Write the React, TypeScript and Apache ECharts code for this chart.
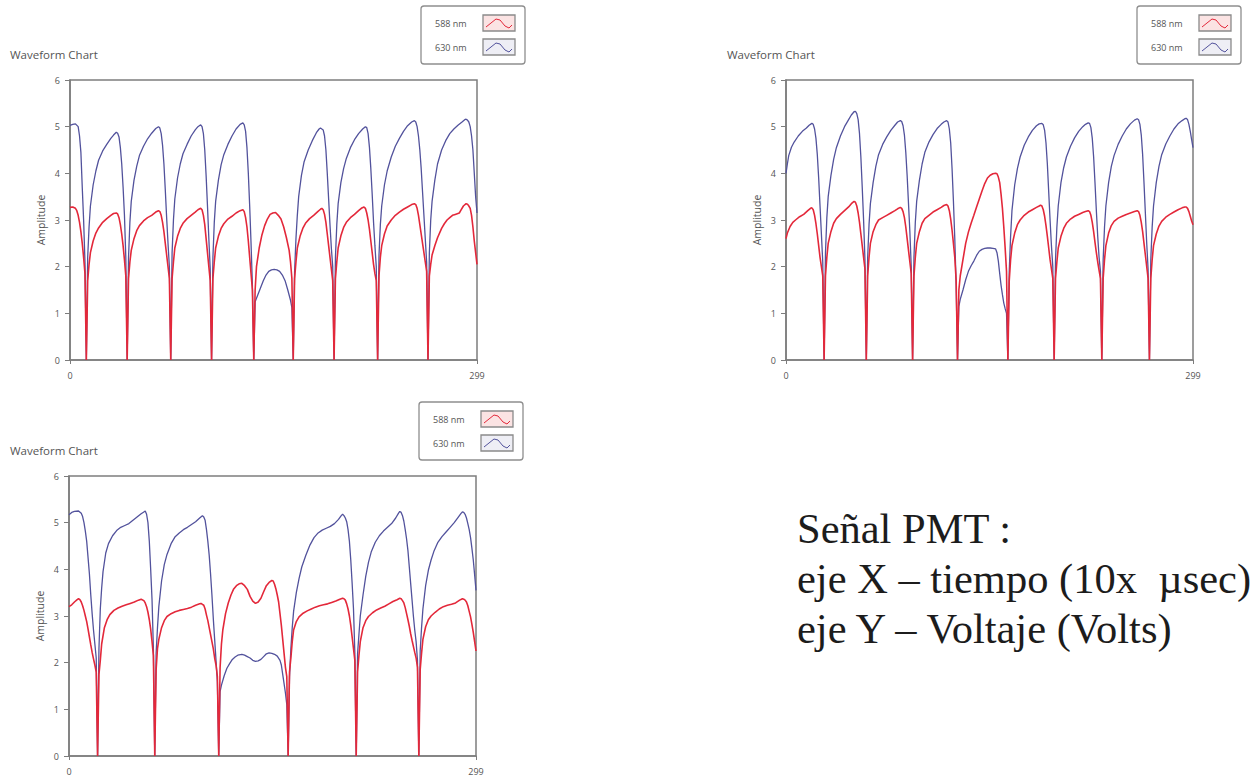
import React, { useEffect, useRef } from "react";
import * as echarts from "echarts";

// ---- text content ----
const chartTitle = "Waveform Chart";
const yAxisName = "Amplitude";
const seriesNames = ["588 nm", "630 nm"];
const xTickLabels = ["0", "299"];
const yTickValues = [0, 1, 2, 3, 4, 5, 6];
const noteLines = ["Señal PMT :", "eje X – tiempo (10x  µsec)", "eje Y – Voltaje (Volts)"];

// ---- panel A (top left) ----
const panelA_588: number[][] = [
  [0, 3.27], [2, 3.28], [4, 3.25], [5, 3.2], [6, 3.1], [7, 2.95], [8, 2.75], [9, 2.5], [10, 2.2], [11, 1.85], [12, 0],
  [13, 1.7], [14, 2.05], [15, 2.3], [17, 2.55], [19, 2.72], [21, 2.83], [24, 2.95], [27, 3.03], [30, 3.1], [32, 3.14], [34, 3.15], [35, 3.13], [36, 3.05], [37, 2.9], [38, 2.7], [39, 2.45], [40, 2.15], [41, 1.8], [42, 0],
  [43, 1.75], [44, 2.1], [45, 2.35], [47, 2.6], [49, 2.77], [51, 2.88], [54, 2.98], [57, 3.05], [60, 3.1], [63, 3.17], [65, 3.2], [66, 3.18], [67, 3.1], [68, 2.95], [69, 2.75], [70, 2.5], [71, 2.25], [72, 2.0], [73, 1.75], [74, 0],
  [75, 1.75], [76, 2.1], [77, 2.4], [79, 2.65], [81, 2.82], [83, 2.93], [86, 3.03], [89, 3.1], [92, 3.17], [94, 3.22], [96, 3.25], [97, 3.22], [98, 3.1], [99, 2.9], [100, 2.6], [101, 2.3], [102, 2.0], [103, 1.7], [104, 0],
  [105, 1.75], [106, 2.1], [107, 2.4], [109, 2.65], [111, 2.82], [113, 2.92], [116, 3.02], [119, 3.08], [122, 3.15], [125, 3.2], [127, 3.22], [128, 3.18], [129, 3.05], [130, 2.85], [131, 2.55], [132, 2.2], [133, 1.85], [134, 1.5], [135, 0],
  [136, 1.5], [137, 2.0], [139, 2.4], [141, 2.68], [143, 2.88], [145, 3.02], [147, 3.12], [149, 3.15], [151, 3.16], [153, 3.1], [155, 3.02], [157, 2.85], [159, 2.62], [161, 2.35], [162, 2.1], [163, 1.75], [164, 0],
  [165, 1.75], [166, 2.1], [167, 2.4], [169, 2.65], [171, 2.82], [173, 2.93], [176, 3.03], [179, 3.1], [182, 3.18], [184, 3.23], [185, 3.25], [186, 3.22], [187, 3.12], [188, 2.95], [189, 2.7], [190, 2.45], [191, 2.2], [192, 1.95], [193, 1.7], [194, 0],
  [195, 1.75], [196, 2.1], [197, 2.4], [199, 2.66], [201, 2.84], [203, 2.95], [206, 3.05], [209, 3.12], [212, 3.2], [214, 3.25], [216, 3.28], [217, 3.25], [218, 3.15], [219, 3.0], [220, 2.8], [221, 2.55], [222, 2.3], [223, 2.05], [224, 1.85], [225, 1.7], [226, 0],
  [227, 1.8], [228, 2.2], [229, 2.45], [231, 2.7], [233, 2.87], [236, 3.0], [239, 3.1], [242, 3.17], [245, 3.23], [248, 3.28], [251, 3.33], [253, 3.35], [254, 3.33], [255, 3.25], [256, 3.1], [257, 2.9], [258, 2.7], [259, 2.5], [260, 2.3], [261, 2.1], [262, 1.9], [263, 0],
  [264, 1.8], [265, 2.05], [266, 2.25], [268, 2.45], [270, 2.62], [273, 2.82], [275, 2.92], [277, 3.0], [279, 3.05], [281, 3.1], [283, 3.12], [285, 3.14], [286, 3.15], [287, 3.2], [289, 3.3], [291, 3.35], [292, 3.34], [293, 3.3], [294, 3.25], [295, 3.1], [296, 2.85], [297, 2.55], [298, 2.3], [299, 2.05],
];

const panelA_630: number[][] = [
  [0, 5.03], [2, 5.05], [4, 5.06], [6, 5.0], [7, 4.8], [8, 4.45], [9, 3.7], [10, 3.0], [11, 2.1], [12, 0],
  [13, 2.2], [14, 2.85], [15, 3.3], [17, 3.75], [19, 4.05], [21, 4.28], [24, 4.48], [27, 4.62], [30, 4.75], [32, 4.82], [34, 4.88], [35, 4.86], [36, 4.78], [37, 4.55], [38, 4.2], [39, 3.7], [40, 3.1], [41, 2.2], [42, 0],
  [43, 2.2], [44, 2.95], [45, 3.4], [47, 3.85], [49, 4.15], [51, 4.38], [54, 4.58], [57, 4.74], [60, 4.86], [63, 4.96], [65, 5.0], [66, 4.97], [67, 4.85], [68, 4.6], [69, 4.2], [70, 3.65], [71, 3.05], [72, 2.5], [73, 2.0], [74, 0],
  [75, 2.3], [76, 3.0], [77, 3.45], [79, 3.9], [81, 4.2], [83, 4.42], [86, 4.62], [89, 4.8], [92, 4.93], [94, 5.0], [96, 5.04], [97, 5.0], [98, 4.85], [99, 4.5], [100, 3.95], [101, 3.3], [102, 2.6], [103, 1.95], [104, 0],
  [105, 2.2], [106, 2.95], [107, 3.4], [109, 3.85], [111, 4.18], [113, 4.4], [116, 4.62], [119, 4.8], [122, 4.95], [125, 5.05], [127, 5.08], [128, 5.04], [129, 4.9], [130, 4.55], [131, 4.0], [132, 3.3], [133, 2.5], [134, 1.6], [135, 0],
  [136, 1.25], [138, 1.4], [140, 1.55], [142, 1.7], [144, 1.82], [146, 1.9], [148, 1.93], [150, 1.94], [152, 1.93], [154, 1.9], [156, 1.82], [158, 1.7], [160, 1.5], [162, 1.28], [163, 1.12], [164, 0],
  [165, 1.9], [166, 2.6], [167, 3.1], [168, 3.5], [170, 3.95], [172, 4.25], [175, 4.5], [178, 4.7], [181, 4.87], [183, 4.95], [184, 4.97], [186, 4.93], [187, 4.8], [188, 4.5], [189, 4.0], [190, 3.45], [191, 2.9], [192, 2.4], [193, 2.0], [194, 0],
  [195, 2.2], [196, 2.9], [197, 3.35], [199, 3.8], [201, 4.1], [203, 4.32], [206, 4.55], [209, 4.72], [212, 4.85], [215, 4.95], [217, 5.0], [218, 4.98], [219, 4.85], [220, 4.55], [221, 4.1], [222, 3.55], [223, 2.95], [224, 2.45], [225, 2.0], [226, 0],
  [227, 2.25], [228, 2.9], [229, 3.3], [231, 3.75], [233, 4.05], [236, 4.35], [239, 4.58], [242, 4.75], [245, 4.9], [248, 5.02], [251, 5.1], [253, 5.13], [254, 5.1], [255, 5.0], [256, 4.8], [257, 4.5], [258, 4.1], [259, 3.6], [260, 3.1], [261, 2.6], [262, 2.1], [263, 0],
  [264, 2.3], [265, 3.0], [266, 3.4], [268, 3.85], [270, 4.2], [273, 4.5], [276, 4.7], [279, 4.85], [282, 4.95], [285, 5.03], [288, 5.1], [290, 5.15], [291, 5.16], [292, 5.14], [293, 5.1], [294, 5.0], [295, 4.8], [296, 4.5], [297, 4.0], [298, 3.5], [299, 3.15],
];

// ---- panel B (top right) ----
const panelB_588: number[][] = [
  [0, 2.6], [1, 2.72], [3, 2.86], [5, 2.95], [7, 3.0], [10, 3.07], [13, 3.12], [16, 3.2], [18, 3.25], [19, 3.26], [20, 3.22], [21, 3.1], [22, 2.92], [23, 2.7], [24, 2.45], [25, 2.2], [26, 2.0], [27, 1.8], [28, 0],
  [29, 1.8], [30, 2.2], [31, 2.5], [33, 2.75], [35, 2.93], [37, 3.03], [40, 3.12], [43, 3.2], [46, 3.28], [48, 3.35], [50, 3.4], [51, 3.38], [52, 3.3], [53, 3.15], [54, 2.95], [55, 2.7], [56, 2.45], [57, 2.2], [58, 1.95], [59, 0],
  [60, 1.8], [61, 2.2], [62, 2.5], [64, 2.75], [66, 2.9], [68, 3.0], [71, 3.05], [74, 3.1], [77, 3.15], [80, 3.2], [82, 3.24], [84, 3.27], [85, 3.25], [86, 3.18], [87, 3.05], [88, 2.85], [89, 2.6], [90, 2.35], [91, 2.1], [92, 1.85], [93, 0],
  [94, 1.8], [95, 2.2], [96, 2.5], [98, 2.75], [100, 2.93], [102, 3.03], [105, 3.1], [108, 3.17], [111, 3.22], [114, 3.27], [116, 3.31], [118, 3.33], [119, 3.3], [120, 3.2], [121, 3.02], [122, 2.78], [123, 2.5], [124, 2.2], [125, 1.7], [126, 0],
  [127, 1.5], [128, 1.8], [130, 2.15], [132, 2.5], [134, 2.74], [136, 2.93], [138, 3.1], [140, 3.28], [142, 3.45], [144, 3.62], [146, 3.78], [148, 3.9], [150, 3.96], [152, 3.99], [154, 4.0], [155, 3.99], [156, 3.92], [157, 3.8], [158, 3.55], [159, 3.25], [160, 2.85], [161, 2.4], [162, 1.9], [163, 0],
  [164, 1.7], [165, 2.15], [166, 2.45], [168, 2.72], [170, 2.9], [172, 3.0], [175, 3.1], [178, 3.17], [181, 3.22], [184, 3.27], [186, 3.3], [187, 3.32], [188, 3.3], [189, 3.22], [190, 3.08], [191, 2.88], [192, 2.65], [193, 2.4], [194, 2.15], [195, 1.95], [196, 1.75], [197, 0],
  [198, 1.75], [199, 2.1], [200, 2.4], [202, 2.65], [204, 2.82], [206, 2.93], [209, 3.02], [212, 3.08], [215, 3.12], [218, 3.16], [220, 3.18], [222, 3.2], [223, 3.18], [224, 3.1], [225, 2.95], [226, 2.75], [227, 2.52], [228, 2.3], [229, 2.1], [230, 1.92], [231, 1.75], [232, 0],
  [233, 1.75], [234, 2.15], [235, 2.45], [237, 2.72], [239, 2.88], [241, 2.97], [244, 3.04], [247, 3.08], [250, 3.12], [253, 3.15], [256, 3.18], [258, 3.2], [259, 3.18], [260, 3.1], [261, 2.95], [262, 2.75], [263, 2.5], [264, 2.25], [265, 2.0], [266, 1.75], [267, 0],
  [268, 1.75], [269, 2.15], [270, 2.45], [272, 2.7], [274, 2.87], [276, 2.97], [279, 3.06], [282, 3.12], [285, 3.17], [288, 3.22], [291, 3.26], [293, 3.28], [294, 3.28], [295, 3.25], [296, 3.18], [297, 3.08], [298, 2.98], [299, 2.9],
];

const panelB_630: number[][] = [
  [0, 4.0], [1, 4.2], [2, 4.38], [4, 4.56], [6, 4.67], [9, 4.8], [12, 4.9], [15, 4.97], [17, 5.03], [19, 5.07], [20, 5.05], [21, 4.95], [22, 4.75], [23, 4.4], [24, 3.9], [25, 3.3], [26, 2.7], [27, 2.1], [28, 0],
  [29, 2.3], [30, 3.05], [31, 3.5], [33, 3.95], [35, 4.3], [37, 4.55], [40, 4.8], [43, 5.0], [46, 5.15], [48, 5.25], [50, 5.32], [51, 5.33], [52, 5.28], [53, 5.15], [54, 4.85], [55, 4.35], [56, 3.7], [57, 3.0], [58, 2.15], [59, 0],
  [60, 2.2], [61, 2.9], [62, 3.35], [64, 3.8], [66, 4.15], [68, 4.4], [71, 4.62], [74, 4.78], [77, 4.92], [80, 5.03], [82, 5.1], [84, 5.13], [85, 5.11], [86, 5.02], [87, 4.82], [88, 4.45], [89, 3.95], [90, 3.35], [91, 2.75], [92, 2.0], [93, 0],
  [94, 2.2], [95, 2.95], [96, 3.4], [98, 3.85], [100, 4.2], [102, 4.45], [105, 4.67], [108, 4.83], [111, 4.96], [114, 5.05], [116, 5.1], [118, 5.13], [119, 5.1], [120, 4.95], [121, 4.65], [122, 4.1], [123, 3.4], [124, 2.6], [125, 1.6], [126, 0],
  [127, 1.15], [128, 1.3], [130, 1.5], [132, 1.72], [134, 1.9], [136, 2.02], [138, 2.12], [140, 2.24], [142, 2.33], [144, 2.37], [146, 2.39], [148, 2.4], [150, 2.4], [152, 2.39], [154, 2.38], [155, 2.3], [156, 2.12], [157, 1.85], [158, 1.6], [159, 1.4], [160, 1.22], [161, 1.1], [162, 1.0], [163, 0],
  [164, 1.9], [165, 2.65], [166, 3.2], [168, 3.75], [170, 4.1], [172, 4.35], [175, 4.6], [178, 4.78], [181, 4.92], [184, 5.02], [186, 5.06], [188, 5.07], [189, 5.04], [190, 4.92], [191, 4.65], [192, 4.2], [193, 3.6], [194, 3.0], [195, 2.45], [196, 2.0], [197, 0],
  [198, 2.15], [199, 2.85], [200, 3.3], [202, 3.8], [204, 4.12], [206, 4.35], [209, 4.58], [212, 4.76], [215, 4.9], [218, 5.0], [220, 5.05], [222, 5.08], [223, 5.07], [224, 4.98], [225, 4.75], [226, 4.35], [227, 3.8], [228, 3.2], [229, 2.65], [230, 2.2], [231, 1.9], [232, 0],
  [233, 2.15], [234, 2.85], [235, 3.3], [237, 3.8], [239, 4.15], [241, 4.38], [244, 4.62], [247, 4.8], [250, 4.95], [253, 5.06], [256, 5.14], [258, 5.17], [259, 5.15], [260, 5.05], [261, 4.82], [262, 4.4], [263, 3.8], [264, 3.15], [265, 2.5], [266, 1.95], [267, 0],
  [268, 2.15], [269, 2.85], [270, 3.3], [272, 3.8], [274, 4.15], [276, 4.4], [279, 4.63], [282, 4.8], [285, 4.95], [288, 5.06], [291, 5.13], [293, 5.17], [294, 5.18], [295, 5.15], [296, 5.05], [297, 4.9], [298, 4.72], [299, 4.55],
];

// ---- panel C (bottom left) ----
const panelC_588: number[][] = [
  [0, 3.2], [2, 3.24], [4, 3.3], [6, 3.35], [7, 3.37], [8, 3.35], [9, 3.3], [10, 3.22], [11, 3.12], [12, 3.0], [13, 2.88], [14, 2.72], [15, 2.55], [16, 2.38], [17, 2.22], [18, 2.08], [19, 1.95], [20, 1.8], [21, 0],
  [22, 1.75], [23, 2.05], [24, 2.4], [26, 2.75], [28, 2.92], [30, 3.03], [33, 3.12], [36, 3.17], [39, 3.21], [42, 3.24], [45, 3.27], [48, 3.3], [51, 3.34], [53, 3.36], [55, 3.33], [56, 3.28], [57, 3.2], [58, 3.08], [59, 2.92], [60, 2.72], [61, 2.45], [62, 2.15], [63, 0],
  [64, 1.85], [65, 2.3], [66, 2.5], [68, 2.75], [70, 2.9], [72, 2.99], [75, 3.05], [78, 3.09], [81, 3.12], [84, 3.14], [87, 3.16], [90, 3.19], [93, 3.23], [96, 3.26], [97, 3.27], [98, 3.25], [99, 3.23], [100, 3.15], [101, 3.02], [102, 2.9], [103, 2.75], [104, 2.6], [105, 2.45], [106, 2.3], [107, 2.1], [108, 1.95], [109, 1.7], [110, 0],
  [111, 1.9], [112, 2.4], [113, 2.7], [115, 3.05], [117, 3.28], [119, 3.45], [121, 3.58], [123, 3.65], [125, 3.69], [127, 3.7], [129, 3.65], [131, 3.57], [133, 3.42], [135, 3.32], [137, 3.27], [139, 3.3], [141, 3.38], [143, 3.52], [145, 3.65], [147, 3.72], [149, 3.76], [150, 3.75], [151, 3.68], [152, 3.58], [153, 3.45], [154, 3.3], [155, 3.05], [156, 2.8], [157, 2.5], [158, 2.2], [159, 1.9], [160, 1.7], [161, 0],
  [162, 1.8], [163, 2.1], [164, 2.45], [165, 2.7], [167, 2.88], [169, 2.98], [172, 3.06], [175, 3.11], [178, 3.15], [181, 3.19], [184, 3.22], [187, 3.24], [190, 3.26], [193, 3.29], [196, 3.32], [199, 3.36], [201, 3.38], [202, 3.37], [203, 3.34], [204, 3.26], [205, 3.15], [206, 3.0], [207, 2.8], [208, 2.55], [209, 2.3], [210, 2.05], [211, 0],
  [212, 1.8], [213, 2.15], [214, 2.45], [216, 2.75], [218, 2.9], [220, 2.99], [223, 3.07], [226, 3.13], [229, 3.17], [232, 3.21], [235, 3.26], [238, 3.31], [241, 3.35], [243, 3.38], [244, 3.37], [245, 3.33], [246, 3.28], [247, 3.18], [248, 3.05], [249, 2.92], [250, 2.78], [251, 2.62], [252, 2.48], [253, 2.35], [254, 2.22], [255, 2.1], [256, 1.9], [257, 0],
  [258, 1.85], [259, 2.2], [260, 2.5], [262, 2.77], [264, 2.92], [266, 3.0], [269, 3.08], [272, 3.15], [275, 3.2], [278, 3.23], [281, 3.25], [284, 3.28], [287, 3.34], [289, 3.37], [290, 3.36], [291, 3.34], [292, 3.3], [293, 3.22], [294, 3.1], [295, 2.98], [296, 2.82], [297, 2.65], [298, 2.45], [299, 2.25],
];

const panelC_630: number[][] = [
  [0, 5.17], [2, 5.22], [4, 5.24], [7, 5.25], [9, 5.2], [10, 5.13], [11, 5.0], [12, 4.82], [13, 4.6], [14, 4.25], [15, 3.9], [16, 3.45], [17, 3.05], [18, 2.7], [19, 2.4], [20, 2.1], [21, 0],
  [22, 2.3], [23, 3.15], [24, 3.6], [25, 3.95], [27, 4.35], [29, 4.55], [32, 4.72], [35, 4.83], [38, 4.9], [41, 4.94], [44, 4.98], [47, 5.05], [50, 5.12], [53, 5.19], [55, 5.23], [56, 5.25], [57, 5.18], [58, 5.0], [59, 4.6], [60, 4.0], [61, 3.35], [62, 2.3], [63, 0],
  [64, 2.2], [65, 2.75], [66, 3.2], [68, 3.75], [70, 4.1], [72, 4.32], [75, 4.55], [78, 4.7], [81, 4.78], [84, 4.85], [87, 4.9], [90, 4.96], [93, 5.02], [96, 5.1], [98, 5.15], [99, 5.12], [100, 5.05], [101, 4.85], [102, 4.6], [103, 4.3], [104, 3.9], [105, 3.45], [106, 2.95], [107, 2.5], [108, 2.05], [109, 1.6], [110, 0],
  [111, 1.38], [112, 1.52], [114, 1.72], [116, 1.88], [118, 1.98], [120, 2.07], [122, 2.12], [124, 2.16], [127, 2.18], [129, 2.16], [131, 2.13], [133, 2.1], [135, 2.05], [137, 2.03], [139, 2.04], [141, 2.07], [143, 2.13], [145, 2.19], [147, 2.21], [149, 2.2], [151, 2.18], [153, 2.14], [155, 2.05], [156, 1.95], [157, 1.75], [158, 1.55], [159, 1.35], [160, 1.1], [161, 0],
  [162, 1.7], [163, 2.3], [164, 2.75], [165, 3.1], [167, 3.5], [169, 3.8], [171, 4.05], [174, 4.3], [177, 4.52], [180, 4.68], [183, 4.78], [186, 4.84], [189, 4.88], [192, 4.92], [195, 4.98], [198, 5.07], [200, 5.15], [201, 5.18], [202, 5.15], [203, 5.1], [204, 5.02], [205, 4.85], [206, 4.6], [207, 4.2], [208, 3.7], [209, 3.15], [210, 2.2], [211, 0],
  [212, 2.2], [213, 2.6], [214, 3.0], [216, 3.45], [218, 3.85], [220, 4.15], [222, 4.37], [225, 4.58], [228, 4.72], [231, 4.82], [234, 4.9], [237, 4.98], [240, 5.1], [242, 5.2], [243, 5.24], [244, 5.22], [245, 5.15], [246, 5.03], [247, 4.85], [248, 4.65], [249, 4.4], [250, 4.05], [251, 3.7], [252, 3.35], [253, 3.0], [254, 2.7], [255, 2.45], [256, 2.05], [257, 0],
  [258, 2.25], [259, 2.75], [260, 3.15], [262, 3.65], [264, 3.98], [266, 4.2], [268, 4.38], [271, 4.58], [274, 4.7], [277, 4.8], [280, 4.9], [283, 5.0], [286, 5.12], [288, 5.2], [289, 5.23], [290, 5.22], [291, 5.18], [292, 5.1], [293, 4.98], [294, 4.85], [295, 4.68], [296, 4.45], [297, 4.2], [298, 3.88], [299, 3.55],
];

// ---- layout ----
const UI_FONT = "'Open Sans', 'Noto Sans', 'DejaVu Sans', sans-serif";
const NOTE_FONT = "'Liberation Serif', 'Times New Roman', serif";
const FRAME = "#7d7d7d";
const LABEL = "#555555";
const RED = "#e3283a";
const BLUE = "#52529c";

const PLOT_W = 407;
const PLOT_H = 280;

const panels = [
  { left: 70, top: 80, red: panelA_588, blue: panelA_630, titleX: 10, titleY: 56, legendX: 421, legendY: 6 },
  { left: 786, top: 80, red: panelB_588, blue: panelB_630, titleX: 727, titleY: 56, legendX: 1137, legendY: 6 },
  { left: 69, top: 476, red: panelC_588, blue: panelC_630, titleX: 10, titleY: 452, legendX: 419, legendY: 402 },
];

// small wave glyph drawn inside each legend swatch
const swatchWave = [[3, 12], [8, 8], [13, 4], [17, 5], [22, 11], [26, 13], [29, 10]];

function buildOption() {
  const grid: any[] = [];
  const xAxis: any[] = [];
  const yAxis: any[] = [];
  const series: any[] = [];
  const title: any[] = [];
  const graphic: any[] = [];

  panels.forEach((p, i) => {
    grid.push({
      left: p.left,
      top: p.top,
      width: PLOT_W,
      height: PLOT_H,
      show: true,
      borderColor: FRAME,
      borderWidth: 1.5,
      backgroundColor: "#ffffff",
    });
    xAxis.push({
      type: "value",
      gridIndex: i,
      min: 0,
      max: 299,
      interval: 299,
      axisLine: { show: true, lineStyle: { color: FRAME, width: 1.5 } },
      axisTick: { show: true, length: 4, lineStyle: { color: FRAME } },
      axisLabel: {
        fontSize: 9,
        color: LABEL,
        fontFamily: UI_FONT,
        margin: 11,
        showMinLabel: true,
        showMaxLabel: true,
        formatter: (v: number) => (v === 0 ? xTickLabels[0] : xTickLabels[1]),
      },
      splitLine: { show: false },
    });
    yAxis.push({
      type: "value",
      gridIndex: i,
      min: yTickValues[0],
      max: yTickValues[yTickValues.length - 1],
      interval: 1,
      name: yAxisName,
      nameLocation: "middle",
      nameRotate: 90,
      nameGap: 24,
      nameTextStyle: { fontSize: 10.5, color: LABEL, fontFamily: UI_FONT },
      axisLine: { show: true, lineStyle: { color: FRAME, width: 1.5 } },
      axisTick: { show: true, length: 5, lineStyle: { color: FRAME } },
      axisLabel: { fontSize: 9, color: LABEL, fontFamily: UI_FONT, margin: 10 },
      splitLine: { show: false },
    });
    series.push({
      name: seriesNames[1],
      type: "line",
      xAxisIndex: i,
      yAxisIndex: i,
      data: p.blue,
      showSymbol: false,
      symbol: "none",
      lineStyle: { color: BLUE, width: 1.3 },
      z: 2,
    });
    series.push({
      name: seriesNames[0],
      type: "line",
      xAxisIndex: i,
      yAxisIndex: i,
      data: p.red,
      showSymbol: false,
      symbol: "none",
      lineStyle: { color: RED, width: 1.6 },
      z: 3,
    });
    title.push({
      text: chartTitle,
      left: p.titleX,
      top: p.titleY - 8,
      padding: 0,
      textStyle: { fontSize: 11.5, fontWeight: "normal", color: LABEL, fontFamily: UI_FONT },
    });

    // legend box
    graphic.push({
      type: "rect",
      shape: { x: p.legendX, y: p.legendY, width: 104, height: 58, r: 3 },
      style: { fill: "#ffffff", stroke: "#8e8e8e", lineWidth: 1.3 },
      z: 10,
    });
    [0, 1].forEach((k) => {
      const rowY = p.legendY + 17 + 24 * k;
      graphic.push({
        type: "text",
        x: p.legendX + 14,
        y: rowY,
        style: {
          text: seriesNames[k],
          fontSize: 9,
          fill: LABEL,
          fontFamily: UI_FONT,
          verticalAlign: "middle",
        },
        z: 11,
      });
      const sx = p.legendX + 62;
      const sy = rowY - 8;
      graphic.push({
        type: "rect",
        shape: { x: sx, y: sy, width: 32, height: 16 },
        style: { fill: k === 0 ? "#fbe3e3" : "#eeeef5", stroke: "#8a8a8a", lineWidth: 1.3 },
        z: 11,
      });
      graphic.push({
        type: "polyline",
        shape: { points: swatchWave.map(([dx, dy]) => [sx + dx, sy + dy]) },
        style: { stroke: k === 0 ? RED : BLUE, lineWidth: 1, fill: null },
        z: 12,
      });
    });
  });

  noteLines.forEach((line, k) => {
    graphic.push({
      type: "text",
      x: 797,
      y: 528 + 50 * k,
      style: {
        text: line,
        fontSize: 42.5,
        fill: "#1c1c1c",
        fontFamily: NOTE_FONT,
        verticalAlign: "middle",
      },
      z: 5,
    });
  });

  return {
    animation: false,
    backgroundColor: "#ffffff",
    title,
    grid,
    xAxis,
    yAxis,
    series,
    graphic,
  };
}

export default function App() {
  const ref = useRef<HTMLDivElement>(null);
  useEffect(() => {
    if (!ref.current) return;
    const chart = echarts.init(ref.current, undefined, { renderer: "svg" });
    chart.setOption(buildOption() as any);
    return () => chart.dispose();
  }, []);
  return (
    <div
      ref={ref}
      style={{ position: "absolute", left: 0, top: 0, width: 1253, height: 779, background: "#fff" }}
    />
  );
}
